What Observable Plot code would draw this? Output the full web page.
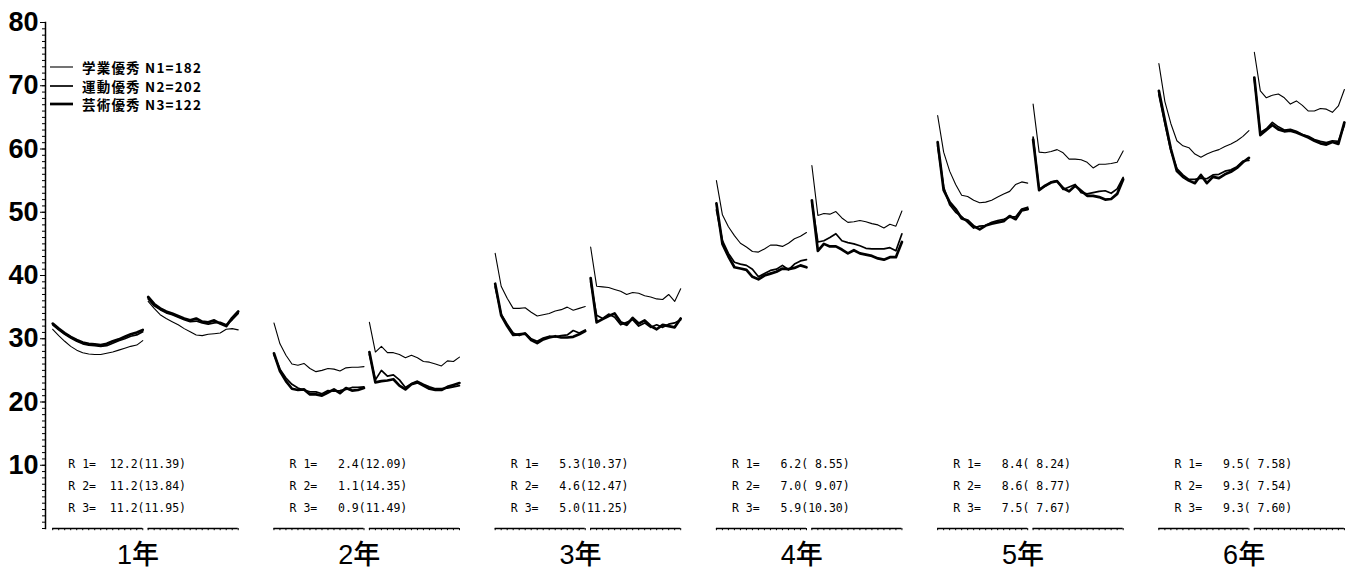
<!DOCTYPE html>
<html><head><meta charset="utf-8">
<script src="https://cdn.jsdelivr.net/npm/d3@7"></script>
<script src="https://cdn.jsdelivr.net/npm/@observablehq/plot@0.6"></script>
<style>
html,body{margin:0;padding:0;background:#fff;}
#wrap{position:relative;width:1354px;height:574px;overflow:hidden;}
#legend{position:absolute;left:50px;top:58px;font-family:"Noto Sans CJK JP",sans-serif;font-weight:bold;font-size:13.5px;letter-spacing:1.2px;color:#000;z-index:2;}
#legend .row{display:flex;align-items:center;height:18.5px;white-space:pre;}
#legend .row svg{margin-right:9px;}
svg text{white-space:pre;}
</style></head>
<body><div id="wrap"><div id="legend"></div></div>
<script>
// ---- categories / labels ----
const grades = ["1年","2年","3年","4年","5年","6年"];
const seriesNames = ["学業優秀","運動優秀","芸術優秀"];
const seriesN = ["N1=182","N2=202","N3=122"];
// ---- R statistics per grade ----
const r1 = [12.2, 2.4, 5.3, 6.2, 8.4, 9.5];
const sd1 = [11.39, 12.09, 10.37, 8.55, 8.24, 7.58];
const r2 = [11.2, 1.1, 4.6, 7.0, 8.6, 9.3];
const sd2 = [13.84, 14.35, 12.47, 9.07, 8.77, 7.54];
const r3 = [11.2, 0.9, 5.0, 5.9, 7.5, 9.3];
const sd3 = [11.95, 11.49, 11.25, 10.30, 7.67, 7.60];
// ---- line values: 16 points of the first block, then 16 of the second ----
const g1_academic = [31.5,30.5,29.6,28.8,28.2,27.8,27.6,27.5,27.5,27.7,27.9,28.2,28.5,28.8,29.0,29.7,
                     35.9,34.8,33.8,33.2,32.7,32.2,31.6,31.1,30.6,30.5,30.7,30.8,30.9,31.5,31.6,31.4];
const g1_athletic = [32.2,31.4,30.7,30.1,29.6,29.2,29.0,28.9,28.8,28.9,29.3,29.7,30.0,30.4,30.6,31.1,
                     36.3,35.2,34.6,34.1,33.8,33.4,33.0,32.7,32.8,32.5,32.3,32.5,32.6,32.2,33.0,34.0];
const g1_arts     = [32.4,31.6,30.9,30.3,29.8,29.4,29.2,29.1,29.0,29.2,29.6,29.9,30.3,30.7,31.0,31.4,
                     36.6,35.5,34.8,34.3,34.0,33.6,33.2,32.9,33.2,32.7,32.6,32.9,32.4,32.0,33.3,34.3];
const g2_academic = [32.5,29.2,27.4,26.0,25.8,26.1,25.3,24.8,25.0,25.3,25.2,24.9,25.4,25.5,25.5,25.6,
                     32.6,27.9,28.8,27.8,27.8,27.5,27.0,27.4,27.0,26.4,26.3,26.0,25.7,26.5,26.4,27.1];
const g2_athletic = [27.5,25.2,23.8,22.8,22.2,21.9,21.6,21.6,21.3,21.8,21.7,21.8,22.0,22.3,22.3,22.4,
                     27.5,23.5,25.0,24.1,24.3,23.5,22.3,22.9,23.3,22.8,22.4,22.1,22.1,22.2,22.4,22.6];
const g2_arts     = [27.7,24.9,23.3,22.1,21.9,22.0,21.2,21.2,21.0,21.5,22.0,21.4,22.2,21.8,21.9,22.2,
                     27.9,23.1,23.3,23.4,23.6,22.6,22.0,22.8,23.1,22.6,22.1,21.9,21.9,22.4,22.7,23.0];
const g3_academic = [43.5,38.3,36.4,34.8,34.8,34.9,34.2,33.6,33.8,34.0,34.4,34.6,35.0,34.5,34.8,35.1,
                     44.5,38.3,38.2,38.1,37.8,37.5,37.0,37.3,37.2,36.8,36.6,36.3,36.2,37.0,35.9,37.9];
const g3_athletic = [38.2,33.9,32.3,30.9,30.5,30.9,30.0,29.6,30.1,30.4,30.3,30.5,30.6,31.3,30.9,31.4,
                     39.0,33.7,33.2,33.9,33.4,32.2,32.6,33.0,32.0,32.5,31.8,32.2,31.8,32.3,32.5,33.0];
const g3_arts     = [38.7,33.7,32.0,30.6,30.7,30.8,29.8,29.3,29.9,30.2,30.4,30.2,30.2,30.3,30.7,31.2,
                     39.6,32.6,33.1,33.6,34.0,32.6,32.2,33.3,32.4,32.9,32.0,31.5,32.2,32.0,31.8,33.2];
const g4_academic = [55.0,49.6,47.7,46.3,45.1,44.5,43.8,43.7,44.2,44.8,44.8,44.6,45.1,45.8,46.2,46.8,
                     57.4,49.5,49.8,49.7,50.1,49.1,48.4,48.5,48.7,48.5,48.2,48.0,47.5,48.1,47.8,50.2];
const g4_athletic = [50.4,45.5,43.5,42.1,41.8,41.6,41.0,39.8,40.3,40.8,41.0,41.6,40.9,41.8,42.3,42.5,
                     51.6,45.3,45.5,46.0,46.6,45.5,45.2,45.0,44.7,44.3,44.2,44.2,44.2,44.4,43.9,46.6];
const g4_arts     = [51.4,45.0,43.0,41.3,41.1,40.9,39.8,39.4,40.0,40.3,40.6,41.1,41.0,41.2,41.6,41.3,
                     51.9,43.9,45.0,44.6,44.6,44.1,43.5,44.0,43.5,43.3,43.1,42.7,42.5,42.9,42.9,45.3];
const g5_academic = [65.3,59.5,56.5,54.4,52.7,52.5,51.9,51.5,51.6,51.9,52.4,52.9,53.3,54.4,54.8,54.6,
                     67.1,59.5,59.4,59.6,59.9,59.4,58.4,58.4,58.3,57.9,57.0,57.6,57.6,57.7,57.9,59.7];
const g5_athletic = [60.5,54.0,51.2,50.0,49.3,48.4,47.5,47.8,47.9,48.4,48.7,48.9,49.2,49.3,50.5,50.8,
                     61.9,53.6,54.1,54.8,55.0,53.6,54.0,54.4,53.1,52.9,53.1,53.3,53.4,53.0,53.7,55.5];
const g5_arts     = [61.1,53.5,51.6,50.5,49.0,48.7,47.8,47.3,47.9,48.2,48.4,48.6,49.4,48.9,50.3,50.5,
                     61.5,53.5,54.2,54.7,54.9,53.8,53.3,54.2,53.4,52.6,52.6,52.4,52.0,52.1,52.9,55.2];
const g6_academic = [73.5,67.5,64.0,61.3,60.5,60.2,59.2,58.7,59.2,59.6,59.9,60.4,60.8,61.3,62.0,62.9,
                     75.3,69.2,68.1,68.5,68.7,68.1,67.1,67.6,66.9,66.0,66.0,66.4,66.3,65.8,66.8,69.4];
const g6_athletic = [68.6,64.0,59.7,56.9,55.9,55.2,55.2,55.4,55.3,55.9,56.0,56.5,56.7,57.2,58.1,58.2,
                     71.0,62.6,63.2,64.2,63.5,63.0,63.1,62.8,62.3,62.0,61.5,61.2,61.0,61.3,61.2,63.8];
const g6_arts     = [69.2,64.5,60.0,56.5,55.6,55.0,54.6,55.9,54.6,55.6,55.4,56.0,56.4,57.0,57.9,58.6,
                     71.3,62.2,63.0,63.8,63.1,62.8,62.9,62.6,62.2,61.8,61.3,60.9,60.7,61.1,60.8,64.2];

// ---- assemble ----
const seriesByGrade = [
  [g1_academic, g2_academic, g3_academic, g4_academic, g5_academic, g6_academic],
  [g1_athletic, g2_athletic, g3_athletic, g4_athletic, g5_athletic, g6_athletic],
  [g1_arts, g2_arts, g3_arts, g4_arts, g5_arts, g6_arts]
];
const rVals = [r1, r2, r3], sdVals = [sd1, sd2, sd3];
const NPT = 16, GS = 36.85, PS = 15.9;   // layout: grade step / block step in index units
const widths = [1.1, 1.7, 2.7];

const pts = [];
seriesByGrade.forEach((byGrade, s) => byGrade.forEach((vals, g) => vals.forEach((v, k) => {
  const p = Math.floor(k / NPT), i = k % NPT;
  pts.push({s, g, p, i, x: g * GS + p * PS + i, y: v, key: `${s}-${g}-${p}`});
})));
const panels = grades.flatMap((_, g) => [0, 1].map(p => ({g, p, x1: g * GS + p * PS, x2: g * GS + p * PS + NPT - 1})));
const segTicks = panels.flatMap(pn => d3.range(NPT).map(i => ({x: pn.x1 + i})));
const rowY = [10.1, 6.6, 3.2];
const rRows = grades.flatMap((_, g) => [0, 1, 2].map(k => ({
  g, k,
  text: `R ${k + 1}=` + rVals[k][g].toFixed(1).padStart(6) + "(" + sdVals[k][g].toFixed(2).padStart(5) + ")"
})));
const gradeCenters = grades.map((_, g) => g * GS + 14.2);

const chart = Plot.plot({
  width: 1354, height: 574,
  marginLeft: 45, marginRight: 2, marginTop: 22, marginBottom: 46,
  x: {domain: [-1.2, 216.5], label: null},
  y: {domain: [0, 80], label: null},
  style: {background: "#fff", color: "#000"},
  marks: [
    Plot.frame({anchor: "left", stroke: "#000", strokeWidth: 1.5}),
    Plot.axisY({ticks: d3.range(0, 81, 1), tickSize: 3, tickFormat: () => "", label: null, strokeWidth: 1}),
    Plot.axisY({ticks: d3.range(10, 81, 10), tickSize: 5, tickPadding: 2, fontSize: 27, label: null,
      fontFamily: "Liberation Sans, Arial, sans-serif", fontWeight: "bold", tickFormat: d => String(d)}),
    Plot.axisX({ticks: gradeCenters, tickSize: 0, tickPadding: 16, fontSize: 27, label: null,
      fontFamily: "Liberation Sans, Noto Sans CJK JP, sans-serif", fontWeight: 500,
      tickFormat: d => grades[Math.round((d - 14.2) / GS)]}),
    Plot.ruleY(panels, {y: () => 0, x1: "x1", x2: "x2", stroke: "#000", strokeWidth: 1.6}),
    Plot.ruleX(segTicks, {x: "x", y1: () => 0, y2: () => -0.35, stroke: "#000", strokeWidth: 1}),
    ...[2, 1, 0].map(s => Plot.line(pts.filter(d => d.s === s), {
      x: "x", y: "y", z: "key", stroke: "#000", strokeWidth: widths[s], strokeLinejoin: "round"
    })),
    Plot.text(rRows, {x: d => d.g * GS + 2.6, y: d => rowY[d.k], text: "text", textAnchor: "start",
      fontFamily: "DejaVu Sans Mono, Liberation Mono, monospace", fontSize: 11.5, fill: "#000"})
  ]
});
document.getElementById("wrap").appendChild(chart);

// ---- legend (overlay, top-left inside the plot) ----
const leg = document.getElementById("legend");
seriesNames.forEach((name, s) => {
  const row = document.createElement("div");
  row.className = "row";
  row.innerHTML = `<svg width="23" height="6"><line x1="0" x2="23" y1="3" y2="3" stroke="#000" stroke-width="${widths[s]}"/></svg><span>${name} ${seriesN[s]}</span>`;
  leg.appendChild(row);
});
</script>
</body></html>
